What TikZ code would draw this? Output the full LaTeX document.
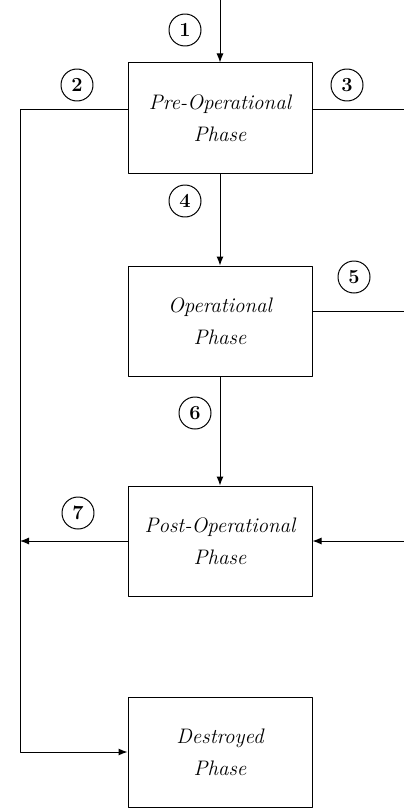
\documentclass[tikz,border=0pt]{standalone}
\usetikzlibrary{positioning,arrows.meta}
\tikzset{
	phase/.style={draw, line width=1pt, minimum width=184pt, minimum height=110pt, align=center, font=\fontsize{21}{32}\selectfont\itshape},
	num/.style={draw, circle, line width=1pt, minimum size=32pt, inner sep=0pt, font=\fontsize{20}{20}\selectfont\bfseries}
}
\begin{document}
\begin{tikzpicture}[x=1pt,y=-1pt,>={Latex[length=9pt,width=7pt]}, line width=1pt, line join=round]
			\def\xl{20} \def\xr{404}
			\useasboundingbox (0,0) rectangle (404,808);
			% phases
			\node[phase] (pre) at (220,118) {Pre-Operational\\Phase};
			\node[phase] (op) at (220,321) {Operational\\Phase};
			\node[phase] (post) at (220,541) {Post-Operational\\Phase};
			\node[phase] (dest) at (220,752) {Destroyed\\Phase};
			% ends of the open lines
			\coordinate (top) at (220,0);
			\coordinate (lt) at (\xl,109);
			\coordinate (rt) at (\xr,109);
			\coordinate (ro) at (\xr,311);
			\coordinate (rp) at (\xr,541);
			\coordinate (lp) at (\xl,541);
			\draw[->] (top)--(pre.north);
			\draw[->] (lt -| pre.west)--(lt) |- (dest.west);
			\draw (rt -| pre.east)--(rt);
			\draw[->] (pre.south)--(op.north);
			\draw (ro -| op.east)--(ro);
			\draw[->] (op.south)--(post.north);
			\draw[->] (rp)--(post.east);
			\draw[->] (post.west)--(lp);
			% numbers
			\node[num] (n1) at (185,30) {1};
			\node[num] (n2) at (77,85) {2};
			\node[num] (n3) at (347,85) {3};
			\node[num] (n4) at (185,201) {4};
			\node[num] (n5) at (354,277) {5};
			\node[num] (n6) at (195,413) {6};
			\node[num] (n7) at (78,513) {7};
		\end{tikzpicture}
\end{document}
